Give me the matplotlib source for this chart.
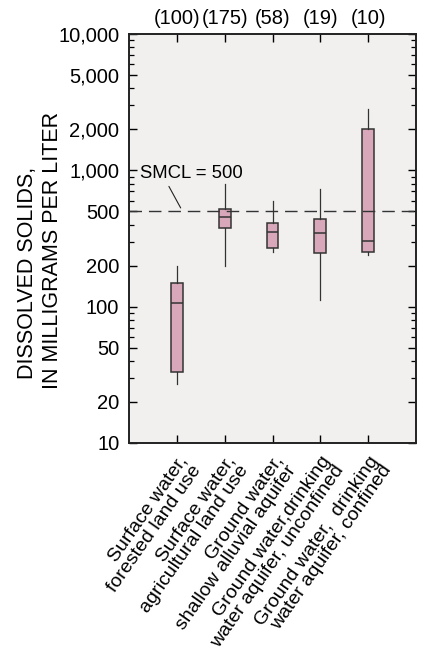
import matplotlib
matplotlib.use("Agg")
import matplotlib.pyplot as plt
from matplotlib.ticker import FixedLocator, NullFormatter

plt.rcParams["font.family"] = ["Liberation Sans", "DejaVu Sans"]

categories = [
    "Surface water,\nforested land use",
    "Surface water,\nagricultural land use",
    "Ground water,\nshallow alluvial aquifer",
    "Ground water,drinking\nwater aquifer, unconfined",
    "Ground water,  drinking\nwater aquifer, confined",
]
counts = ["(100)", "(175)", "(58)", "(19)", "(10)"]
whislo = [27, 200, 253, 111, 240]
q1 = [33, 376, 271, 248, 251]
med = [106, 455, 353, 349, 303]
q3 = [149, 518, 409, 438, 2000]
whishi = [200, 795, 600, 727, 2820]
smcl = 500
y_major = [10, 20, 50, 100, 200, 500, 1000, 2000, 5000, 10000]

pink = "#d8a7ba"
edge = "#333333"

fig = plt.figure(figsize=(4.22, 6.53), dpi=100)
ax = fig.add_axes([0.3057, 0.3216, 0.6801, 0.6263])
ax.set_facecolor("#f1f0ef")

stats = [
    dict(whislo=a, q1=b, med=c, q3=d, whishi=e, fliers=[])
    for a, b, c, d, e in zip(whislo, q1, med, q3, whishi)
]
positions = list(range(1, len(categories) + 1))
ax.bxp(
    stats,
    positions=positions,
    widths=0.25,
    patch_artist=True,
    showcaps=False,
    boxprops=dict(facecolor=pink, edgecolor=edge, linewidth=1.1),
    medianprops=dict(color=edge, linewidth=1.1),
    whiskerprops=dict(color=edge, linewidth=0.9),
)

ax.axhline(smcl, color="#333333", linewidth=1.0, dashes=(9, 5), zorder=5)
ax.annotate(
    "SMCL = 500",
    xy=(1.08, 530),
    xytext=(0.23, 942),
    fontsize=13.3,
    va="center",
    ha="left",
    arrowprops=dict(arrowstyle="-", color="#222222", linewidth=0.8,
                    relpos=(0.26, 0.0), shrinkA=1, shrinkB=0),
)

ax.set_yscale("log")
ax.set_ylim(10, 10000)
ax.set_xlim(0, 6)
ax.yaxis.set_major_locator(FixedLocator(y_major))
ax.set_yticklabels([f"{v:,}" for v in y_major], fontsize=14.5)
minor = [m * 10 ** e for e in range(1, 4) for m in range(2, 10) if m * 10 ** e not in y_major]
ax.yaxis.set_minor_locator(FixedLocator(minor))
ax.yaxis.set_minor_formatter(NullFormatter())

ax.set_xticks(positions)
ax.set_xticklabels(categories, rotation=55, ha="right", rotation_mode="anchor",
                   fontsize=14, linespacing=0.95)
ax.tick_params(axis="y", which="major", direction="in", right=True,
               length=6, width=1.0, pad=7)
ax.tick_params(axis="y", which="minor", direction="in", right=True,
               length=3.5, width=0.9)
ax.tick_params(axis="x", direction="in", length=6, width=1.0, pad=7)

# two-line y label, each line placed separately like the original
ax.text(-0.352, 0.416, "DISSOLVED SOLIDS,", transform=ax.transAxes,
        rotation=90, ha="center", va="center", fontsize=15.5)
ax.text(-0.268, 0.472, "IN MILLIGRAMS PER LITER", transform=ax.transAxes,
        rotation=90, ha="center", va="center", fontsize=15.5)

top = ax.twiny()
top.set_xlim(ax.get_xlim())
top.set_xticks(positions)
top.set_xticklabels(counts, fontsize=14.5)
top.tick_params(axis="x", direction="in", length=6, width=1.0, pad=4)

for a in (ax, top):
    for sp in a.spines.values():
        sp.set_linewidth(1.2)
        sp.set_color("#222222")

fig.savefig("out.png", dpi=100)
